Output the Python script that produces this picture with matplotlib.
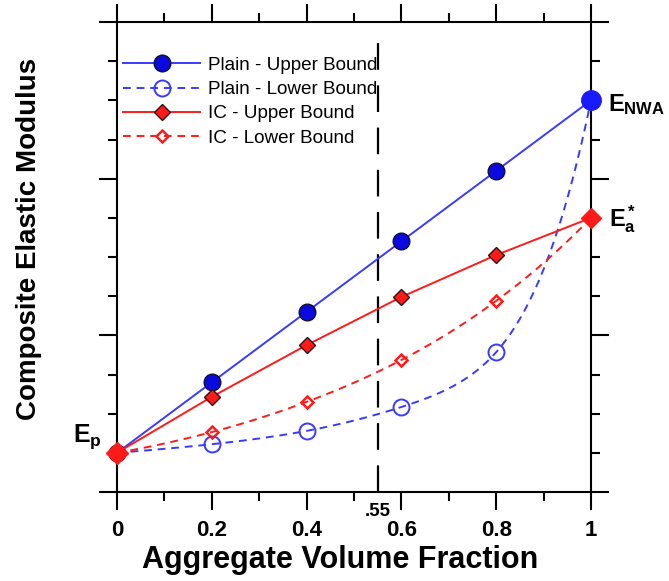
import matplotlib.pyplot as plt
import numpy as np

plt.rcParams['font.family'] = ['Liberation Sans', 'DejaVu Sans']
plt.rcParams['mathtext.fontset'] = 'custom'
plt.rcParams['mathtext.rm'] = 'Liberation Sans'
plt.rcParams['mathtext.bf'] = 'Liberation Sans:bold'
plt.rcParams['mathtext.it'] = 'Liberation Sans:italic'

# aggregate volume fraction
frac = [0.0, 0.2, 0.4, 0.6, 0.8, 1.0]
# modulus in arbitrary units (Ep = 1)
plain_upper = [1.0, 2.8, 4.6, 6.4, 8.2, 10.0]
plain_lower = [1.0, 1.22, 1.56, 2.17, 3.57, 10.0]
ic_upper = [1.0, 2.43, 3.75, 4.98, 6.05, 7.0]
ic_lower = [1.0, 1.53, 2.3, 3.37, 4.88, 7.0]
E_p, E_nwa, E_a = 1.0, 10.0, 7.0
x_ticks = [0, 0.2, 0.4, 0.6, 0.8, 1]
x_ticklabels = ['0', '0.2', '0.4', '0.6', '0.8', '1']
x_mark = 0.55

blue_line = '#3a3aff'
blue_fill = '#0a0ae0'
red = '#ff1a1a'


def smooth(x, y, n=200):
    # natural cubic spline through log(y), just to draw a smooth connecting curve
    x = np.asarray(x, float)
    y = np.log(np.asarray(y, float))
    m = len(x)
    h = np.diff(x)
    A = np.zeros((m, m))
    b = np.zeros(m)
    A[0, 0] = A[-1, -1] = 1
    for i in range(1, m - 1):
        A[i, i - 1] = h[i - 1]
        A[i, i] = 2 * (h[i - 1] + h[i])
        A[i, i + 1] = h[i]
        b[i] = 3 * ((y[i + 1] - y[i]) / h[i] - (y[i] - y[i - 1]) / h[i - 1])
    c = np.linalg.solve(A, b)
    xs = np.linspace(x[0], x[-1], n)
    idx = np.clip(np.searchsorted(x, xs) - 1, 0, m - 2)
    bb = (y[1:] - y[:-1]) / h - h * (2 * c[:-1] + c[1:]) / 3
    d = (c[1:] - c[:-1]) / (3 * h)
    t = xs - x[idx]
    ys = y[idx] + bb[idx] * t + c[idx] * t ** 2 + d[idx] * t ** 3
    return xs, np.exp(ys)


fig = plt.figure(figsize=(6.69, 5.81), dpi=100)
ax = fig.add_axes([117 / 669, 89 / 581, 474 / 669, 470 / 581])

ax.axvline(x_mark, ymax=0.957, color='black', lw=1.6, dashes=(12, 7), zorder=1)

ax.plot(frac, plain_upper, '-', color=blue_line, lw=1.4, marker='o', ms=12,
        mfc=blue_fill, mec='#101030', mew=1.0, label='Plain - Upper Bound', clip_on=False, zorder=4)

xs, ys = smooth(frac, plain_lower)
ax.plot(xs, ys, '--', color=blue_line, lw=1.4, dashes=(4, 3), clip_on=False, zorder=3)
ax.plot(frac[1:-1], plain_lower[1:-1], 'o', ms=11.5, mfc='none', mec=blue_line, mew=1.4, zorder=4)
ax.plot([], [], '--', color=blue_line, lw=1.4, dashes=(4, 3), marker='o', ms=11.5,
        mfc='none', mec=blue_line, mew=1.4, label='Plain - Lower Bound')

ax.plot(frac, ic_upper, '-', color=red, lw=1.4, marker='D', ms=8,
        mfc=red, mec='#301010', mew=1.0, label='IC - Upper Bound', clip_on=False, zorder=4)

xs, ys = smooth(frac, ic_lower)
ax.plot(xs, ys, '--', color=red, lw=1.4, dashes=(4, 3), clip_on=False, zorder=3)
ax.plot(frac[1:-1], ic_lower[1:-1], 'D', ms=6.5, mfc='none', mec=red, mew=1.8, zorder=4)
ax.plot([], [], '--', color=red, lw=1.4, dashes=(4, 3), marker='D', ms=6.5,
        mfc='none', mec=red, mew=1.8, label='IC - Lower Bound')

# end points
ax.plot([1], [E_nwa], 'o', ms=14, color='#1a1aff', clip_on=False, zorder=5)
ax.plot([1], [E_a], 'D', ms=10, color=red, clip_on=False, zorder=5)
ax.plot([0], [E_p], 'D', ms=11, color=red, clip_on=False, zorder=5)

ax.annotate(r'$\mathbf{E_p}$', (0, E_p), xytext=(-11, 1), textcoords='offset points',
            fontsize=18, ha='right', va='bottom')
ax.annotate(r'$\mathbf{E_{NWA}}$', (1, E_nwa), xytext=(12, -3), textcoords='offset points',
            fontsize=17, ha='left', va='center')
ax.annotate(r'$\mathbf{E_a^*}$', (1, E_a), xytext=(13, -1), textcoords='offset points',
            fontsize=17, ha='left', va='center')

ax.set_xlim(0, 1)
ax.set_ylim(0, 12)
ax.set_xticks(x_ticks)
ax.set_xticklabels(x_ticklabels, fontsize=16, fontweight='bold')
ax.set_xticks(np.arange(0.1, 1.0, 0.2), minor=True)
ax.set_yticks([0, 4, 8, 12])
ax.set_yticks(np.arange(0, 13, 1), minor=True)
ax.set_yticklabels([])
ax.tick_params(which='both', direction='out', top=True, right=True, width=1.5, pad=7)
ax.tick_params(which='major', length=13)
ax.tick_params(which='minor', length=6.5)
for s in ax.spines.values():
    s.set_linewidth(1.5)

ax.text(x_mark, -0.28, '.55', fontsize=13.5, fontweight='bold', ha='center', va='top')

ax.set_xlabel('Aggregate Volume Fraction', fontsize=22, fontweight='bold')
ax.xaxis.set_label_coords(0.470, -0.112)
ax.set_ylabel('Composite Elastic Modulus', fontsize=20, fontweight='bold')
ax.yaxis.set_label_coords(-0.158, 0.538)

ax.legend(loc='upper left', bbox_to_anchor=(0.013, 0.926), frameon=False, fontsize=13.6,
          handlelength=4.07, handletextpad=0.42, labelspacing=0.37, borderpad=0, borderaxespad=0)

fig.savefig('out.png', dpi=100)
